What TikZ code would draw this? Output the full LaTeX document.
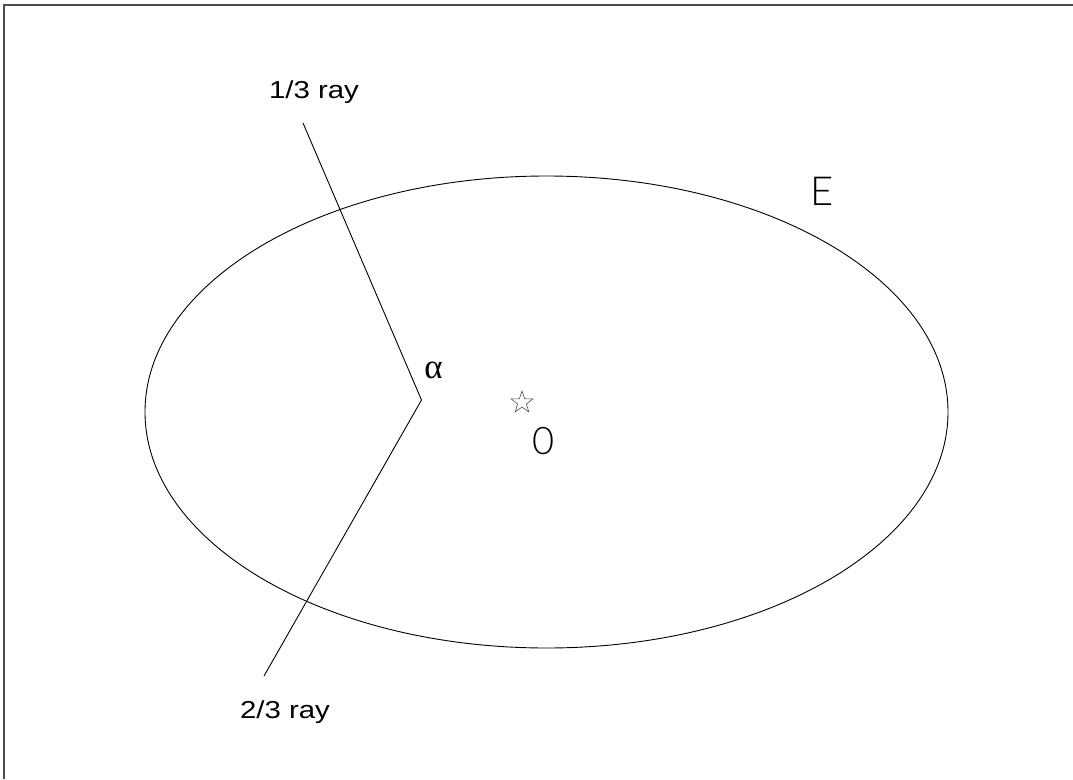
\documentclass[tikz,border=0pt]{standalone}
\usepackage{fontspec}
\usetikzlibrary{shapes.geometric}
\newfontfamily\rayfont[FakeStretch=1.2]{Liberation Sans}
\newfontfamily\thinfont{Lato Light}
\newfontfamily\greekfont{Liberation Serif}
\begin{document}
\begin{tikzpicture}[x=1pt,y=-1pt,
  raylabel/.style={font=\rayfont\fontsize{24.5}{28}\selectfont, anchor=base, inner sep=0pt},
  biglabel/.style={font=\thinfont\fontsize{40}{46}\selectfont, anchor=base, inner sep=0pt},
  rayline/.style={line width=0.9pt, black},
  starmark/.style={star, star points=5, star point ratio=2.5, minimum size=23pt, inner sep=0pt, draw=black!70, line width=0.6pt}]
\useasboundingbox (0,0) rectangle (1073,779);
\draw[line width=1.5pt, black!70] (4,779) -- (4,5) -- (1073,5);
\draw[line width=0.9pt] (546.5,412) ellipse [x radius=401.5pt, y radius=236pt];
\coordinate (v) at (421.5,400);
\coordinate (t) at (303,123);
\coordinate (b) at (264,676);
\draw[rayline] (t) -- (v) -- (b);
\node[raylabel] (l13) at (314,98) {1/3 ray};
\node[raylabel] (l23) at (285,718) {2/3 ray};
\node[font=\greekfont\fontsize{35}{40}\selectfont, anchor=base, inner sep=0pt] (alpha) at (433.5,378) {α};
\node[starmark] (st) at (522,402.5) {};
\node[biglabel, font=\thinfont\fontsize{38}{44}\selectfont] (zero) at (543.5,454) {0};
\node[biglabel] (E) at (822.5,205) {E};
\end{tikzpicture}
\end{document}
